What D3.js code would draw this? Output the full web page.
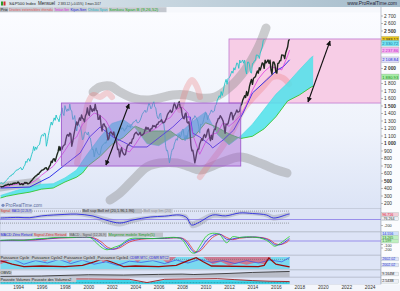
<!DOCTYPE html>
<html><head><meta charset="utf-8">
<script src="https://cdn.jsdelivr.net/npm/d3@7"></script>
<style>body{margin:0;background:#fff}svg{display:block;font-family:"Liberation Sans",Arial,sans-serif}</style>
</head><body><svg id="c" width="400" height="291"></svg>
<script>
// ---------------- DATA ----------------
const startMonth = 1992.5; // July 1992, monthly closes
const closes = [
424,414,418,419,431,436,
439,443,452,440,450,451,448,464,459,468,462,466,
481,467,446,451,457,444,458,475,463,472,454,459,
470,487,501,515,533,545,562,562,584,582,605,616,
636,640,645,654,669,671,640,652,687,705,757,741,
786,791,757,801,848,885,954,899,947,915,955,970,
980,1049,1102,1112,1091,1134,1121,957,1017,1099,1164,1229,
1280,1238,1286,1335,1302,1373,1329,1320,1283,1363,1389,1469,
1394,1366,1499,1452,1421,1455,1431,1518,1437,1429,1315,1320,
1366,1240,1160,1249,1256,1224,1211,1134,1041,1060,1139,1148,
1130,1107,1147,1076,1067,990,912,916,815,886,936,880,
856,841,848,917,964,975,990,1008,996,1051,1058,1112,
1131,1145,1126,1107,1121,1141,1102,1104,1115,1130,1174,1212,
1181,1204,1181,1157,1191,1191,1234,1220,1229,1207,1249,1248,
1280,1281,1295,1311,1270,1270,1277,1304,1336,1378,1401,1418,
1438,1407,1421,1482,1531,1503,1455,1474,1527,1549,1481,1468,
1379,1331,1323,1386,1400,1280,1267,1283,1166,969,896,903,
826,735,798,873,919,919,987,1021,1057,1036,1096,1115,
1074,1104,1169,1187,1089,1031,1102,1049,1141,1183,1181,1258,
1286,1327,1326,1364,1345,1321,1292,1219,1131,1253,1247,1258,
1312,1366,1408,1398,1310,1362,1379,1407,1441,1412,1416,1426,
1498,1515,1569,1598,1631,1606,1686,1633,1682,1757,1806,1848,
1783,1859,1872,1884,1924,1960,1931,2003,1972,2018,2068,2059,
1995,2105,2068,2086,2107,2063,2104,1972,1920,2079,2080,2044,
1940,1932,2060,2065,2097,2099,2174,2171,2168,2126,2199,2239,
2279,2364,2383];
const chikouLagMonths = 26;

const tenkanDates = [1992.5,1993,1993.5,1994,1994.5,1995,1995.5,1996,1996.5,1997,1997.5,1998,1998.5,1999,1999.5,2000,2000.5,2001,2001.5,2002,2002.5,2003,2003.5,2004,2004.5,2005,2005.5,2006,2006.5,2007,2007.5,2008,2008.5,2009,2009.5,2010,2010.5,2011,2011.5,2012,2012.5,2013,2013.5,2014,2014.5,2015,2015.5,2016,2016.5,2017,2017.17];
const tenkan = [415,420,440,455,460,460,500,570,630,690,790,900,1020,1080,1250,1330,1400,1370,1300,1150,1000,920,880,980,1100,1140,1170,1220,1300,1340,1450,1480,1400,1070,850,1010,1115,1135,1270,1222,1290,1370,1515,1705,1853,1950,2019,2000,1975,2162,2238];

const kijun = [[1992.5,400],[1995.0,413],[1996.7,547],[1998.2,733],[1999.3,867],[2000.1,1080],[2001.0,1213],[2002.1,1080],[2003.0,1013],[2003.8,947],[2005.0,947],[2006.1,1080],[2007.2,1213],[2008.1,1347],[2008.7,1347],[2008.9,1133],[2009.5,1080],[2010.4,973],[2010.6,933],[2011.5,1040],[2012.4,1173],[2013.2,1400],[2014.0,1667],[2015.2,1840],[2016.1,1973],[2016.6,2013],[2017.17,2109]];

const spanDates = [1992.5,1993,1994,1995,1996,1997,1998,1999,1999.5,2000,2001,2002,2003,2004,2005,2006,2007,2008,2009,2010,2011,2012,2013,2014,2015,2016,2017,2018,2019,2019.2];
const spanA = [300,325,375,408,450,458,535,640,760,870,1080,1260,1310,1200,990,965,1060,1160,1300,1415,1115,975,1095,1250,1450,1650,1800,1975,2140,2160];
const spanB = [267,290,320,345,385,400,480,545,600,700,820,980,1075,1225,1160,1160,1160,1045,1080,1270,1210,1120,1060,1090,1190,1350,1560,1640,1745,1760];

const grayBandUpper = [[2000.40,1680],[2000.99,1747],[2001.85,1760],[2002.70,1680],[2003.81,1600],[2005.00,1573],[2006.11,1600],[2007.22,1640],[2008.42,1640],[2009.52,1600],[2010.80,1613],[2012.08,1747],[2013.36,1973],[2014.47,2267],[2015.16,2533]];
const grayBandLower = [[2001.85,240],[2002.70,333],[2003.81,507],[2005.00,680],[2006.11,733],[2007.56,733],[2008.67,680],[2009.52,640],[2011.23,733],[2012.94,813],[2014.64,733],[2016.09,640],[2016.95,600]];
const grayBandLeft = [[1992.46,413],[1993.74,440],[1995.02,467],[1995.6,480]];
const redBandA = [[1999.03,733],[1999.54,1173],[1999.97,1533],[2000.40,1640],[2000.99,1613],[2001.59,1667],[2002.02,1613]];
const redBandB = [[2007.82,1440],[2008.42,1747],[2008.84,1840],[2009.27,1747],[2009.52,1613]];
const redBandC = [[2009.52,547],[2010.38,733],[2011.23,907],[2012.34,1173],[2013.19,1440],[2014.90,1747],[2015.75,1880],[2016.61,1867],[2017.12,1787]];

// annotation boxes [startYear, endYear, low, high] and arrows [y0, v0, y1, v1]
const purpleBox = [1997.7, 2013.0, 693, 1533];
const pinkBox = [2012.0, 2025.0, 1533, 2387];
const arrows = [[2001.5,707,2003.47,1520],[2018.74,1547,2020.62,2360]];

const priceTicks = [2700,2600,2500,2000,1800,1700,1600,1500,1400,1300,1200,1100,1000,900,800,700,600,500,400,300,200];
const boldTicks = [500,1000,1500,2000,2500];
const boxValues = [2383.12, 2330.72, 2237.86, 2108.84, 1880.93];
const boxLabels = ["2 383.12","2 330.72","2 237.86","2 108.84","1 880.93"];
const yearTicks = [1994,1996,1998,2000,2002,2004,2006,2008,2010,2012,2014,2016,2018,2020,2022,2024];

// sub-panel 2 : MACD / Bollinger
const p2Dates = [1992.5,1994,1995,1996,1997,1998,1999,2000.4,2001.5,2002.7,2003.8,2005.3,2006.5,2007.8,2008.4,2008.8,2009.5,2010.6,2011.7,2012.9,2014,2015.2,2015.8,2017.0,2017.17];
const p2Macd = [50,70,60,120,150,170,180,117,-20,-117,-17,83,110,150,60,-183,-83,150,120,217,200,150,50,170,183];
const p2Hi = [110,120,110,170,200,230,240,200,80,-30,60,130,160,200,160,-60,40,230,190,270,260,230,150,230,240];
const p2Lo = [-10,20,10,60,90,110,120,30,-140,-230,-120,20,60,90,-40,-280,-220,50,40,150,140,70,-40,80,110];
const p2Levels = [280,-120];

// sub-panel 3 : MACD zero lag
const p3Dates = [1992.5,1993.5,1994.5,1995.5,1996.5,1997.5,1998.5,1999.5,2000.2,2000.7,2001.2,2001.6,2002.2,2002.7,2003.5,2004.5,2005.5,2006.5,2007.5,2008.0,2008.4,2008.8,2009.1,2009.5,2010.1,2010.6,2011.2,2011.8,2012.3,2012.9,2013.5,2014.0,2014.6,2015.2,2015.6,2015.9,2016.4,2017.0,2017.17];
const p3Green = [20,30,20,60,80,110,100,120,90,-60,-200,-250,-180,-120,60,80,70,90,100,40,-150,-330,-340,-150,150,220,180,-50,120,100,120,110,90,20,-80,-150,-60,90,130];
const p3Blue = [15,25,25,40,70,95,100,110,100,20,-120,-220,-230,-150,20,70,70,80,95,70,-60,-250,-340,-250,20,160,200,50,60,100,110,115,100,50,-30,-110,-100,30,80];
const p3Red = [10,20,25,30,60,85,95,105,105,60,-50,-170,-230,-190,-30,50,70,75,90,80,0,-180,-300,-290,-80,100,190,100,40,80,100,110,105,70,10,-70,-100,-20,40];

// sub-panel 4 : Puissance Cycle
const cyclePink = [[1992.5,40],[1993.2,70],[1993.8,100],[1995.5,100],[1996.3,60],[1997.0,100],[1997.8,100],[1998.4,55],[1999.0,100],[2000.8,100],[2001.3,50],[2001.8,100],[2003.6,100],[2004.2,55],[2004.8,100],[2006.0,100],[2006.8,45],[2007.5,100],[2009.8,100],[2010.6,40],[2011.3,60],[2012.0,30],[2012.8,50],[2013.5,35],[2014.3,55],[2015.0,40],[2015.6,100],[2017.17,100]];
const cycleRed = [[1992.5,70],[1993.5,40],[1994.5,20],[1996,25],[1998,20],[1999.5,30],[2000.5,60],[2001.2,85],[2002.2,50],[2003,20],[2004,25],[2006,20],[2007.5,30],[2008.5,70],[2009.2,95],[2009.8,60],[2010.5,25],[2014.5,20],[2015.0,30],[2015.4,92],[2016.0,40],[2016.5,30],[2017.17,17]];
const cycleBlue = [[1992.5,60],[1993.5,85],[1994.5,40],[1995.5,70],[1996.5,50],[1997.5,80],[1998.5,45],[1999.5,75],[2000.5,40],[2001.5,60],[2002.5,30],[2003.5,65],[2004.5,55],[2005.5,70],[2006.5,45],[2007.5,75],[2008.5,50],[2009.5,80],[2010.5,55],[2011.5,70],[2012.5,45],[2013.5,70],[2014.5,50],[2015.5,75],[2016.5,60],[2017.17,95]];

// sub-panel 5 : OBVD
const obvd = [[1992.5,10],[1996,15],[2000,35],[2003,30],[2006,40],[2008,45],[2009,38],[2012,55],[2014,70],[2016,80],[2017.17,85]];
// sub-panel 6 : Poussée volumes
const pvRed = [[1992.5,85],[2000,85],[2003.5,80],[2005.0,30],[2006.5,80],[2008.5,85],[2011.0,90],[2012.5,75],[2014.0,60],[2015.5,50],[2017.17,45]];
const pvCyan = [[1992.5,70],[2003.5,70],[2005,25],[2006.5,70],[2012,70],[2014.5,55],[2016.0,40],[2017.17,35]];
const pvDash = [[1992.5,28],[2017.17,28]];

// ---------------- DRAWING ----------------
const svg = d3.select("#c");
const defs = svg.append("defs");
function lg(id, x2, y2, stops){
  const g = defs.append("linearGradient").attr("id",id).attr("x1",0).attr("y1",0).attr("x2",x2).attr("y2",y2);
  stops.forEach(([o,c]) => g.append("stop").attr("offset",o).attr("stop-color",c));
}
lg("gTitle",1,0,[[0,"#dfe8ee"],[1,"#a5bccb"]]);
lg("gMain",0,1,[[0,"#fbfcff"],[0.6,"#eef2fb"],[1,"#dce4f6"]]);

function fit(t, maxW){
  const n = t.node();
  const L = n.getComputedTextLength();
  if (L > maxW) t.attr("font-size", (+t.attr("font-size")) * maxW / L);
  return t;
}

const W = 381;
const X = d3.scaleLinear().domain([1992.46, 1992.46 + W/11.72]).range([0, W]);
const Y = d3.scaleLinear().domain([200, 2800]).range([203, 8]);
const fmtK = v => d3.format(",")(v).replace(/,/g, " ");
const pairLine = (ys) => d3.line().x(d => X(d[0])).y(d => ys(d[1]));

svg.append("rect").attr("width",400).attr("height",291).attr("fill","#f6f8fc");

svg.append("rect").attr("x",0).attr("y",12.5).attr("width",W).attr("height",196).attr("fill","url(#gMain)");
defs.append("clipPath").attr("id","cpMain").append("rect").attr("x",0).attr("y",12.5).attr("width",W).attr("height",196);
const gm = svg.append("g").attr("clip-path","url(#cpMain)");

gm.append("rect").attr("x",X(pinkBox[0])).attr("y",Y(pinkBox[3]))
  .attr("width",X(pinkBox[1])-X(pinkBox[0])).attr("height",Y(pinkBox[2])-Y(pinkBox[3]))
  .attr("fill","#f7cde6").attr("stroke","#c07ad0").attr("stroke-width",0.8);

[grayBandUpper, grayBandLower, grayBandLeft].forEach(b =>
  gm.append("path").attr("d", pairLine(Y).curve(d3.curveCatmullRom)(b)).attr("fill","none")
    .attr("stroke","#8c8c8c").attr("stroke-opacity",0.42).attr("stroke-width",9).attr("stroke-linecap","round"));
[redBandA, redBandB, redBandC].forEach(b =>
  gm.append("path").attr("d", pairLine(Y).curve(d3.curveCatmullRom)(b)).attr("fill","none")
    .attr("stroke","#ec6b6b").attr("stroke-opacity",0.28).attr("stroke-width",6).attr("stroke-linecap","round"));

const spanRows = spanDates.map((t,i) => [t, spanA[i], spanB[i]]);
defs.append("clipPath").attr("id","cpAbove").append("path")
  .attr("d", d3.area().x(d => X(d[0])).y0(0).y1(d => Y(d[2]))(spanRows));
defs.append("clipPath").attr("id","cpBelow").append("path")
  .attr("d", d3.area().x(d => X(d[0])).y0(d => Y(d[2])).y1(300)(spanRows));
const areaAB = d3.area().x(d => X(d[0])).y0(d => Y(d[1])).y1(d => Y(d[2]));
gm.append("g").attr("clip-path","url(#cpAbove)").append("path").attr("d", areaAB(spanRows)).attr("fill","#4fe2ea").attr("fill-opacity",0.85);
gm.append("g").attr("clip-path","url(#cpBelow)").append("path").attr("d", areaAB(spanRows)).attr("fill","#5fd65f").attr("fill-opacity",0.85);
gm.append("path").attr("d", d3.line().x(d => X(d[0])).y(d => Y(d[1]))(spanRows)).attr("fill","none").attr("stroke","#45d8e0").attr("stroke-width",0.6);
gm.append("path").attr("d", d3.line().x(d => X(d[0])).y(d => Y(d[2]))(spanRows)).attr("fill","none").attr("stroke","#36c636").attr("stroke-width",0.9);

const priceRows = closes.map((c,i) => [startMonth + i/12, c]);
gm.append("path").attr("d", d3.line().x(d => X(d[0] - chikouLagMonths/12)).y(d => Y(d[1]))(priceRows))
  .attr("fill","none").attr("stroke","#22c4c6").attr("stroke-width",0.9);
gm.append("path").attr("d", pairLine(Y)(kijun)).attr("fill","none").attr("stroke","#1f1fe6").attr("stroke-width",0.9);
gm.append("path").attr("d", d3.line().x((d,i) => X(tenkanDates[i])).y(d => Y(d))(tenkan))
  .attr("fill","none").attr("stroke","#e23ee2").attr("stroke-width",0.8);
gm.append("path").attr("d", pairLine(Y)(priceRows)).attr("fill","none").attr("stroke","#1c261c").attr("stroke-width",1.4).attr("stroke-linejoin","round");

gm.append("rect").attr("x",X(purpleBox[0])).attr("y",Y(purpleBox[3]))
  .attr("width",X(purpleBox[1])-X(purpleBox[0])).attr("height",Y(purpleBox[2])-Y(purpleBox[3]))
  .attr("fill","#a65fd2").attr("fill-opacity",0.45).attr("stroke","#a05ccc").attr("stroke-width",0.9);

defs.append("marker").attr("id","ah").attr("viewBox","0 0 10 10").attr("refX",9).attr("refY",5)
  .attr("markerWidth",5).attr("markerHeight",5).attr("markerUnits","userSpaceOnUse").attr("orient","auto-start-reverse")
  .append("path").attr("d","M0,0 L10,5 L0,10 Z").attr("fill","#111");
arrows.forEach(a => gm.append("line").attr("x1",X(a[0])).attr("y1",Y(a[1])).attr("x2",X(a[2])).attr("y2",Y(a[3]))
  .attr("stroke","#111").attr("stroke-width",1.1).attr("marker-start","url(#ah)").attr("marker-end","url(#ah)"));

svg.append("circle").attr("cx",3).attr("cy",205.3).attr("r",1.6).attr("fill","#7a8cc0");
svg.append("text").attr("x",5.5).attr("y",207).attr("font-size",4.6).attr("fill","#5a6a9a").text("ProRealTime.com");

// ---------- sub panels ----------
const panels = [
  {y0:208.5, y1:231.5}, {y0:232, y1:255}, {y0:255.5, y1:269.5}, {y0:270, y1:277}, {y0:277.5, y1:284.5}
];
panels.forEach((p,i) => {
  svg.append("rect").attr("x",0).attr("y",p.y0).attr("width",W).attr("height",p.y1-p.y0)
    .attr("fill","#dde4f6").attr("stroke","#aab2c4").attr("stroke-width",0.5);
  defs.append("clipPath").attr("id","cp"+i).append("rect").attr("x",0).attr("y",p.y0).attr("width",W).attr("height",p.y1-p.y0);
});
const Y2 = d3.scaleLinear().domain([-400,400]).range([231.5,207.5]);
const Y3 = d3.scaleLinear().domain([-400,400]).range([255,227]);
const Y4 = d3.scaleLinear().domain([0,100]).range([269,257]);
const Y5 = d3.scaleLinear().domain([0,100]).range([277,270.5]);
const Y6 = d3.scaleLinear().domain([0,100]).range([284.5,278]);

const g2 = svg.append("g").attr("clip-path","url(#cp0)");
g2.append("path").attr("d", d3.area().x((d,i) => X(p2Dates[i])).y0((d,i) => Y2(p2Lo[i])).y1(d => Y2(d)).curve(d3.curveCatmullRom)(p2Hi))
  .attr("fill","#a9adb8").attr("fill-opacity",0.55);
p2Levels.forEach(v => g2.append("line").attr("x1",0).attr("x2",X(2017.17)).attr("y1",Y2(v)).attr("y2",Y2(v))
  .attr("stroke","#555").attr("stroke-width",0.5).attr("stroke-dasharray","1,1"));
g2.append("line").attr("x1",0).attr("x2",W).attr("y1",Y2(0)).attr("y2",Y2(0)).attr("stroke","#7c6ce6").attr("stroke-width",0.7);
g2.append("path").attr("d", d3.line().x((d,i) => X(p2Dates[i])).y(d => Y2(d)).curve(d3.curveCatmullRom)(p2Macd))
  .attr("fill","none").attr("stroke","#2a2ae0").attr("stroke-width",0.9);

const g3 = svg.append("g").attr("clip-path","url(#cp1)");
g3.append("line").attr("x1",0).attr("x2",W).attr("y1",Y3(0)).attr("y2",Y3(0)).attr("stroke","#7c6ce6").attr("stroke-width",0.7);
[[p3Red,"#e23030"],[p3Blue,"#2a2ae0"],[p3Green,"#22d022"]].forEach(([arr,col]) =>
  g3.append("path").attr("d", d3.line().x((d,i) => X(p3Dates[i])).y(d => Y3(d)).curve(d3.curveCatmullRom)(arr))
    .attr("fill","none").attr("stroke",col).attr("stroke-width",0.8));

const g4 = svg.append("g").attr("clip-path","url(#cp2)");
g4.append("rect").attr("x",X(1992.5)).attr("y",Y4(100)).attr("width",X(2017.17)-X(1992.5)).attr("height",Y4(0)-Y4(100)).attr("fill","#7ad9ef");
g4.append("path").attr("d", d3.area().x(d => X(d[0])).y0(Y4(100)).y1(d => Y4(d[1]))(cyclePink)).attr("fill","#e2627a").attr("fill-opacity",0.8);
g4.append("line").attr("x1",0).attr("x2",X(2017.17)).attr("y1",Y4(80)).attr("y2",Y4(80)).attr("stroke","#666").attr("stroke-width",0.5).attr("stroke-dasharray","1,1");
g4.append("path").attr("d", pairLine(Y4)(cycleBlue)).attr("fill","none").attr("stroke","#3a50e6").attr("stroke-width",0.7);
g4.append("path").attr("d", pairLine(Y4)(cycleRed)).attr("fill","none").attr("stroke","#9a0c0c").attr("stroke-width",1.3);

const g5 = svg.append("g").attr("clip-path","url(#cp3)");
g5.append("path").attr("d", d3.area().x(d => X(d[0])).y0(Y5(0)).y1(d => Y5(d[1]))(obvd)).attr("fill","#b9bdc8");
g5.append("path").attr("d", pairLine(Y5)(obvd)).attr("fill","none").attr("stroke","#222").attr("stroke-width",0.8);

const g6 = svg.append("g").attr("clip-path","url(#cp4)");
g6.append("path").attr("d", d3.area().x(d => X(d[0])).y0(Y6(0)).y1(d => Y6(d[1]))(pvCyan)).attr("fill","#3fd4ea");
g6.append("path").attr("d", pairLine(Y6)(pvDash)).attr("fill","none").attr("stroke","#1c7f86").attr("stroke-width",0.6).attr("stroke-dasharray","2,1");
g6.append("path").attr("d", pairLine(Y6)(pvRed)).attr("fill","none").attr("stroke","#9a1c1c").attr("stroke-width",0.9);

// ---------- right axis ----------
svg.append("rect").attr("x",W).attr("y",7).attr("width",400-W).attr("height",278).attr("fill","#fbfcfe");
svg.append("line").attr("x1",W).attr("x2",W).attr("y1",7).attr("y2",284.5).attr("stroke","#9aa2b4").attr("stroke-width",0.6);
const ax = svg.append("g").attr("transform",`translate(${W},0)`)
  .call(d3.axisRight(Y).tickValues(priceTicks).tickSize(2).tickPadding(1).tickFormat(fmtK));
ax.select(".domain").remove();
ax.selectAll("text").attr("font-size",4.8).attr("fill","#333").attr("font-family","Liberation Sans, Arial, sans-serif")
  .attr("font-weight", d => boldTicks.includes(d) ? "bold" : "normal");
ax.selectAll("line").attr("stroke","#777").attr("stroke-width",0.5);

const boxStyles = [["#e9c61f","#222"],["#74e4f2","#1a6fa0"],["#f6b6f2","#c020c0"],["#dcdcf8","#2020d0"],["#a6eea6","#1a8a1a"]];
boxValues.forEach((v,i) => {
  const y = Y(v);
  svg.append("rect").attr("x",W+0.5).attr("y",y-2.9).attr("width",17.5).attr("height",5.8)
    .attr("fill",boxStyles[i][0]).attr("stroke","#999").attr("stroke-width",0.3);
  fit(svg.append("text").attr("x",W+1.2).attr("y",y+1.6).attr("font-size",4.6).attr("fill",boxStyles[i][1]).text(boxLabels[i]), 16);
});

function subBox(y, label, bg, fg){
  svg.append("rect").attr("x",W+0.5).attr("y",y-1.9).attr("width",17).attr("height",3.8).attr("fill",bg).attr("stroke","#9aa").attr("stroke-width",0.3);
  fit(svg.append("text").attr("x",W+1.2).attr("y",y+1.2).attr("font-size",3.6).attr("fill",fg).text(label), 15.5);
}
function subTick(y, baseline, label){
  svg.append("line").attr("x1",W).attr("x2",W+2).attr("y1",y).attr("y2",y).attr("stroke","#777").attr("stroke-width",0.5);
  svg.append("text").attr("x",W+3).attr("y",baseline).attr("font-size",3.8).attr("fill","#333").text(label);
}
subBox(214.5,"96.716","#f2cdd6","#d02040");
subBox(218.8,"-76.264","#eef0f6","#333");
subTick(Y2(-200), Y2(-200)+1.4, "-200");
subBox(233.5,"14.556","#cfe0fa","#2030d0");
subBox(237.3,"13.265","#bff0bf","#208020");
subBox(241.1,"1.599","#bff0bf","#208020");
subTick(Y3(-100), 246.6, "-100");
subTick(Y3(-200), 250.6, "-200");
subBox(259,"2602.02","#dfe4fa","#2030d0");
subBox(265,"2002.02","#dfe4fa","#2030d0");
subBox(274,"9.164M","#eef0f6","#222");
subBox(281.2,"2.543B","#eef0f6","#222");

// ---------- x axis ----------
svg.append("rect").attr("x",0).attr("y",284.5).attr("width",400).attr("height",6.5).attr("fill","#f4f6fb");
const xa = svg.append("g").attr("transform","translate(0,284.5)")
  .call(d3.axisBottom(X).tickValues(yearTicks).tickSize(0).tickPadding(1).tickFormat(d3.format("d")));
xa.select(".domain").remove();
xa.selectAll("text").attr("font-size",4.8).attr("fill","#333").attr("font-family","Liberation Sans, Arial, sans-serif");

// ---------- headers ----------
svg.append("rect").attr("x",0).attr("y",0).attr("width",400).attr("height",7).attr("fill","url(#gTitle)");
svg.append("rect").attr("x",1).attr("y",1.5).attr("width",2).attr("height",4).attr("fill","#2a9a2a");
svg.append("rect").attr("x",3.5).attr("y",1.5).attr("width",2).attr("height",4).attr("fill","#d03030");
const titleParts = [[9,"S&P500 Index",27],[38,"Mensuel",17],[58,"2 383.12 (+0.05%)",25.5],[85,"3 mars 2017",16]];
titleParts.forEach(([x,t,l]) => fit(svg.append("text").attr("x",x).attr("y",5.4).attr("font-size",5).attr("fill","#222").text(t), l));
svg.append("text").attr("x",397).attr("y",5.4).attr("font-size",4.8).attr("fill","#223").attr("text-anchor","end").text("www.ProRealTime.com");

function tagRow(y, h, items){
  items.forEach(([x,w,t,col,bg]) => {
    svg.append("rect").attr("x",x).attr("y",y).attr("width",w).attr("height",h).attr("fill",bg || "#c4c8cf");
    fit(svg.append("text").attr("x",x+0.5).attr("y",y+h-1.1).attr("font-size",h-0.6).attr("fill",col).text(t), w-1.3);
  });
}
tagRow(7.2, 5, [[0,8.5,"Prix","#222","#b5bac2"],[8.7,45,"Droites extensibles étendu","#e25a5a"],[53.9,16,"Tenkan-Sen","#e020e0"],[70.1,17,"Kijun-Sen","#2020e0"],[87.3,21,"Chikou Span","#20b8c8"],[108.5,58,"Senkou Span B (9,26,52)","#22aa22"]]);
tagRow(209, 4.5, [[0,11,"Signal","#d83030"],[11.2,21,"MACD (12,26,9)","#2a2ae0"],[82,60,"Boll sup  Boll inf (20,1.96,1.96)","#333","#b8bcc6"],[143,30,"Boll sup lim (20)","#8a8e98","#cdd1da"]]);
tagRow(232.4, 4.5, [[0,33,"MACD Zéro Retard","#2a2ae0"],[33.2,34,"Signal Zéro Retard","#d83030"],[69,38,"MACD - Signal (12,26,9)","#555","#bfc3cc"],[108,55,"Moyenne mobile Simple(5)","#22a022","#bfc3cc"]]);
tagRow(255.8, 4.5, [[0,31,"Puissance Cycle","#222"],[31.3,32,"Puissance Cycle2","#222"],[63.6,33,"Puissance Cycle3","#222"],[96.9,32,"Puissance Cycle4","#222"],[129.2,19,"CDMR MTC","#2a2ae0"],[148.5,21,"CDMR MTC2","#2a2ae0"]]);
tagRow(270.4, 4.4, [[0,12,"OBVD","#222"]]);
tagRow(277.8, 4.4, [[0,31,"Poussée Volumes","#222"],[31.3,45,"Poussée des Volumes2","#222"]]);
</script></body></html>
